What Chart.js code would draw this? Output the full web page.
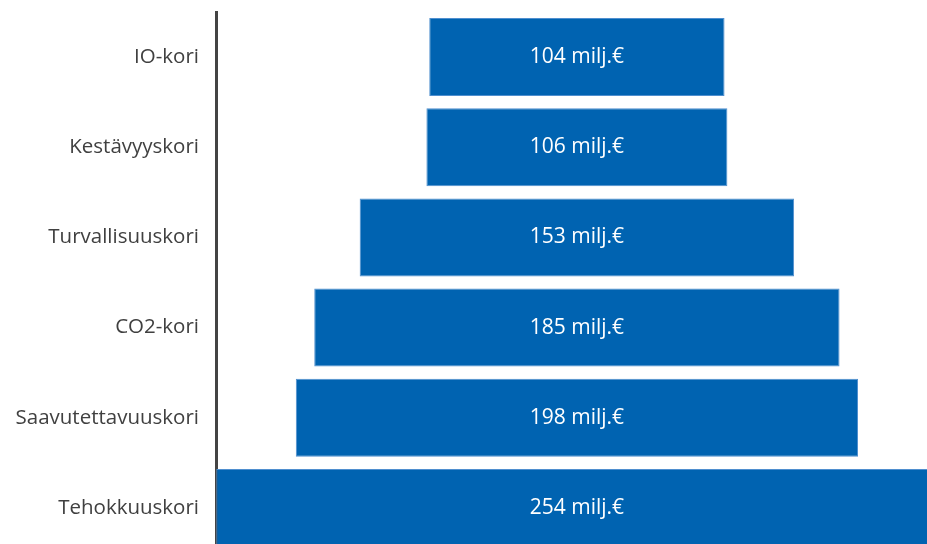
<!DOCTYPE html>
<html>
<head>
<meta charset="utf-8">
<script src="https://cdn.jsdelivr.net/npm/chart.js@4/dist/chart.umd.min.js"></script>
<style>
  html, body { margin: 0; padding: 0; background: #ffffff; overflow: hidden; }
  #wrap { position: relative; width: 927px; height: 556px; }
</style>
</head>
<body>
<div id="wrap"><canvas id="c"></canvas></div>
<script>
// Budget per basket, million euros
const categories = ['IO-kori', 'Kestävyyskori', 'Turvallisuuskori', 'CO2-kori', 'Saavutettavuuskori', 'Tehokkuuskori'];
const values = [104, 106, 153, 185, 198, 254];
const unitLabel = 'milj.€';

const barFill = '#0063b1';
const barEdge = '#4f8fcf';
const fontFamily = '"Open Sans", "Noto Sans", sans-serif';

// Funnel: each bar is centred on zero and spans its full value
const spans = values.map(v => [-v / 2, v / 2]);

const valueLabels = {
  id: 'valueLabels',
  afterDatasetsDraw(chart) {
    const { ctx } = chart;
    const meta = chart.getDatasetMeta(0);
    const cx = chart.scales.x.getPixelForValue(0);
    ctx.save();
    ctx.fillStyle = '#ffffff';
    ctx.font = '21px ' + fontFamily;
    ctx.textAlign = 'center';
    ctx.textBaseline = 'middle';
    meta.data.forEach((bar, i) => {
      ctx.fillText(values[i] + ' ' + unitLabel, cx, bar.y);
    });
    ctx.restore();
  }
};

new Chart(document.getElementById('c'), {
  type: 'bar',
  data: {
    labels: categories,
    datasets: [{
      data: spans,
      backgroundColor: barFill,
      borderColor: barEdge,
      borderWidth: 1,
      borderSkipped: false,
      categoryPercentage: 1,
      barPercentage: 0.865
    }]
  },
  options: {
    indexAxis: 'y',
    responsive: true,
    maintainAspectRatio: false,
    animation: false,
    layout: { padding: { top: 12, bottom: 3, left: 0, right: 0 } },
    plugins: {
      legend: { display: false },
      tooltip: { enabled: false }
    },
    scales: {
      x: {
        type: 'linear',
        min: -127.1,
        max: 123.3,
        display: false
      },
      y: {
        type: 'category',
        offset: true,
        grid: { display: false, drawTicks: false },
        border: { display: true, color: '#444444', width: 3 },
        ticks: {
          color: '#404040',
          padding: 17,
          font: { family: fontFamily, size: 20.5 }
        },
        afterFit(scale) {
          scale.width = 216;
          scale.paddingTop = 0;
          scale.paddingBottom = 0;
        }
      }
    }
  },
  plugins: [valueLabels]
});
</script>
</body>
</html>
